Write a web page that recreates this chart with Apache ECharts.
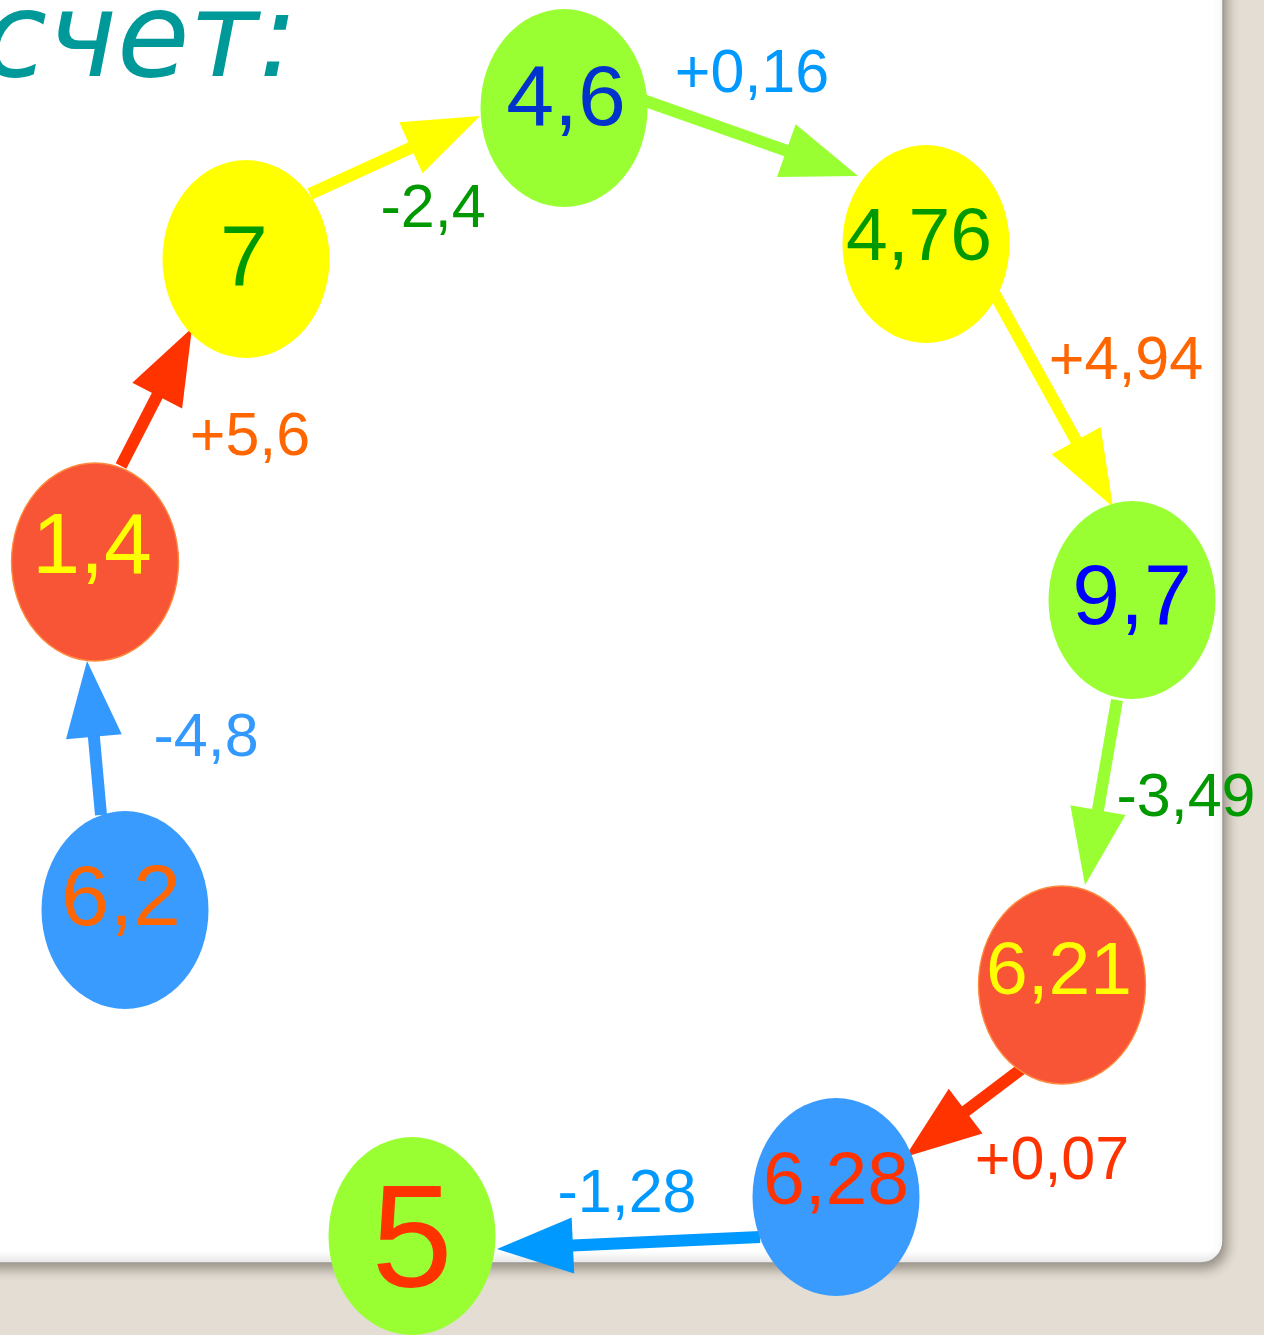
<!DOCTYPE html>
<html>
<head>
<meta charset="utf-8">
<script src="https://cdn.jsdelivr.net/npm/echarts@6/dist/echarts.min.js"></script>
<style>
  html, body { margin: 0; padding: 0; background: #E3DDD3; }
  #main { width: 1264px; height: 1335px; }
</style>
</head>
<body>
<div id="main"></div>
<script type="text/javascript">
// node values (chain of the mental count) and where they sit in the picture
var nodeLabels = ['6,2', '1,4', '7', '4,6', '4,76', '9,7', '6,21', '6,28', '5'];
var nodeX = [125, 95, 246, 564, 926, 1132, 1062, 836, 412];
var nodeY = [910, 562, 259, 108, 244, 600, 985, 1197, 1236];

// steps between nodes
var stepLabels = ['-4,8', '+5,6', '-2,4', '+0,16', '+4,94', '-3,49', '+0,07', '-1,28'];
var stepLabelX = [206, 250, 433, 752, 1126, 1186, 1052, 627];
var stepLabelY = [739, 438, 210, 75, 362, 799, 1162, 1195];
var arrowStart = [[101, 815], [121, 466], [310, 194], [640, 99], [993, 291], [1117, 700], [1028, 1064], [760, 1237]];
var arrowTip = [[87, 661], [192, 328], [480, 116], [858, 176], [1113, 507], [1085, 885], [905, 1157], [497, 1249]];

// styles
var BLUE = '#3A9BFF', RED = '#F85537', YELLOW = '#FFFF00', GREEN = '#99FF33';
var nodeFill = [BLUE, RED, YELLOW, GREEN, YELLOW, GREEN, RED, BLUE, GREEN];
var nodeText = ['#FF6600', '#FFFF00', '#009900', '#0033CC', '#009900', '#0000FF', '#FFFF00', '#FF3300', '#FF3300'];
var nodeFont = [86, 86, 86, 86, 75, 86, 75, 75, 146];
var nodeNudge = [[-4, -9], [-3, -13], [-2, 2], [2, -7], [-7, -5], [0, 0], [-3, -12], [0, -14], [0, 11]];
var arrowColor = ['#3399FF', '#FF3300', '#FFFF00', '#99FF33', '#FFFF00', '#99FF33', '#FF3300', '#0099FF'];
var stepColor = ['#3399FF', '#FF6600', '#009900', '#0099FF', '#FF6600', '#009900', '#FF3300', '#0099FF'];

var FONT = '"Liberation Sans", Arial, sans-serif';
var ELLIPSE = 'path://M0,50 A50,50 0 1,1 100,50 A50,50 0 1,1 0,50 Z';

var myChart = echarts.init(document.getElementById('main'));

var nodeData = nodeLabels.map(function (t, i) {
    return {
        value: [nodeX[i], nodeY[i]],
        name: t,
        itemStyle: {
            color: nodeFill[i],
            opacity: 1,
            borderColor: nodeFill[i] === RED ? '#FF8A3D' : nodeFill[i],
            borderWidth: nodeFill[i] === RED ? 1.5 : 0
        },
        label: { color: nodeText[i], fontSize: nodeFont[i], offset: nodeNudge[i] }
    };
});

var arrowData = arrowStart.map(function (s, i) {
    return [s[0], s[1], arrowTip[i][0], arrowTip[i][1]];
});

var stepData = stepLabels.map(function (t, i) {
    return { value: [stepLabelX[i], stepLabelY[i]], name: t, label: { color: stepColor[i] } };
});

var option = {
    backgroundColor: '#E3DDD3',
    animation: false,
    grid: { left: 0, right: 0, top: 0, bottom: 0 },
    xAxis: { type: 'value', min: 0, max: 1264, show: false },
    yAxis: { type: 'value', min: 0, max: 1335, inverse: true, show: false },
    graphic: [
        {
            type: 'rect',
            z: -10,
            shape: { x: -60, y: -60, width: 1283, height: 1323, r: [0, 0, 22, 0] },
            style: {
                fill: {
                    type: 'linear', x: 0, y: 0, x2: 0, y2: 1,
                    colorStops: [
                        { offset: 0, color: '#FFFFFF' },
                        { offset: 0.99, color: '#FFFFFF' },
                        { offset: 1, color: '#EBEBEB' }
                    ]
                },
                stroke: '#9E9A94',
                lineWidth: 1.5,
                shadowBlur: 12,
                shadowOffsetX: 3,
                shadowOffsetY: 5,
                shadowColor: 'rgba(60,50,40,0.45)'
            }
        },
        {
            type: 'text',
            z: -5,
            x: 298,
            y: 45,
            style: {
                text: 'счет:',
                fill: '#009999',
                fontSize: 118,
                fontStyle: 'italic',
                fontFamily: '"DejaVu Sans", sans-serif',
                align: 'right',
                verticalAlign: 'middle'
            }
        }
    ],
    series: [
        {
            // arrows between the numbers
            type: 'custom',
            coordinateSystem: 'cartesian2d',
            clip: false,
            z: 2,
            encode: { x: [0, 2], y: [1, 3] },
            data: arrowData,
            renderItem: function (params, api) {
                var p1 = api.coord([api.value(0), api.value(1)]);
                var p2 = api.coord([api.value(2), api.value(3)]);
                var dx = p2[0] - p1[0], dy = p2[1] - p1[1];
                var len = Math.sqrt(dx * dx + dy * dy);
                var ux = dx / len, uy = dy / len;
                var headLen = 76, headW = 56;
                var bx = p2[0] - ux * headLen, by = p2[1] - uy * headLen;
                var c = arrowColor[params.dataIndex];
                return {
                    type: 'group',
                    children: [
                        {
                            type: 'line',
                            shape: { x1: p1[0], y1: p1[1], x2: bx + ux * 6, y2: by + uy * 6 },
                            style: { stroke: c, lineWidth: 12, lineCap: 'butt' }
                        },
                        {
                            type: 'polygon',
                            shape: {
                                points: [
                                    [p2[0], p2[1]],
                                    [bx - uy * headW / 2, by + ux * headW / 2],
                                    [bx + uy * headW / 2, by - ux * headW / 2]
                                ]
                            },
                            style: { fill: c }
                        }
                    ]
                };
            }
        },
        {
            // numbers in ellipses
            type: 'scatter',
            z: 3,
            symbol: ELLIPSE,
            symbolSize: [167, 198],
            itemStyle: { opacity: 1 },
            data: nodeData,
            label: {
                show: true,
                position: 'inside',
                fontFamily: FONT,
                formatter: function (p) { return p.name; }
            },
            emphasis: { disabled: true }
        },
        {
            // step labels
            type: 'scatter',
            z: 4,
            symbolSize: 0,
            itemStyle: { opacity: 1 },
            data: stepData,
            label: {
                show: true,
                position: 'inside',
                fontFamily: FONT,
                fontSize: 61,
                formatter: function (p) { return p.name; }
            },
            emphasis: { disabled: true }
        }
    ]
};

myChart.setOption(option);
</script>
</body>
</html>
